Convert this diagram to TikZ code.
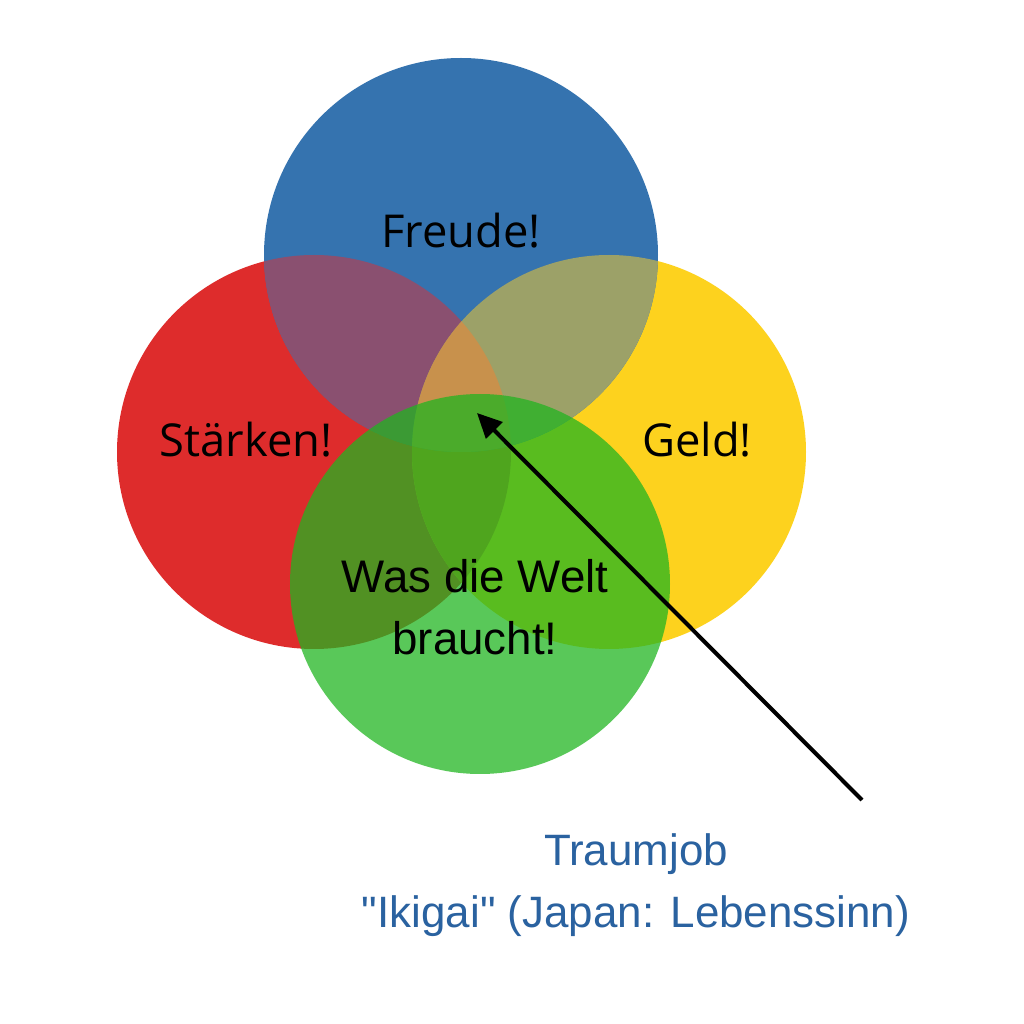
\documentclass[tikz,border=0pt]{standalone}
\definecolor{joyblue}{RGB}{53, 115, 175}
\definecolor{strengthred}{RGB}{222, 44, 44}
\definecolor{moneyyellow}{RGB}{253, 210, 30}
\definecolor{worldgreen}{RGB}{32, 181, 32}
\definecolor{mixpurple}{RGB}{138, 80, 112}
\definecolor{mixolive}{RGB}{156, 161, 104}
\definecolor{mixorange}{RGB}{216, 120, 28}
\definecolor{mixcenter}{RGB}{200, 145, 76}
\definecolor{captionblue}{RGB}{42, 98, 160}
\usepackage{fontspec}
\setmainfont{Open Sans}
\newfontfamily\arialfont{Liberation Sans}
\usepackage{tikz}
\usetikzlibrary{arrows.meta}

% circle paths, reused for fills and clips
\newcommand{\joycirc}{(4.61, 7.69) circle (1.97)}
\newcommand{\strengthcirc}{(3.14, 5.72) circle (1.97)}
\newcommand{\moneycirc}{(6.09, 5.72) circle (1.97)}
\newcommand{\worldcirc}{(4.80, 4.40) circle (1.90)}

\tikzset{
  venntext/.style={font=\fontsize{12.9}{15}\selectfont, text=black, inner sep=0pt, anchor=base},
  worldtext/.style={font=\arialfont\fontsize{13}{17.9}\selectfont, text=black, inner sep=0pt, align=center, anchor=base},
  captiontext/.style={font=\arialfont\fontsize{12.5}{17.6}\selectfont, text=captionblue, inner sep=0pt, align=center, anchor=base}
}

\begin{document}
\begin{tikzpicture}
  \useasboundingbox (0, 0) rectangle (10.24, 10.24);
  \fill[white] (0, 0) rectangle (10.24, 10.24);

  % The circles
  \fill[strengthred] \strengthcirc;
  \fill[moneyyellow] \moneycirc;
  \fill[joyblue] \joycirc;

  % Overlaps
  \begin{scope}
    \clip \strengthcirc;
    \fill[mixorange] \moneycirc;
  \end{scope}
  \begin{scope}
    \clip \joycirc;
    \fill[mixpurple] \strengthcirc;
    \fill[mixolive] \moneycirc;
  \end{scope}
  \begin{scope}
    \clip \joycirc;
    \clip \strengthcirc;
    \fill[mixcenter] \moneycirc;
  \end{scope}

  % Green on top
  \fill[worldgreen, fill opacity=0.74] \worldcirc;

  % Labels
  \node[venntext] (joy) at (4.61, 7.76) {Freude!};
  \node[venntext] (strength) at (2.46, 5.67) {Stärken!};
  \node[venntext] (money) at (6.97, 5.67) {Geld!};
  \node[worldtext] (world) at (4.75, 3.69) {Was die Welt\\braucht!};

  % Caption and arrow
  \node[captiontext] (dreamjob) at (6.36, 0.97) {Traumjob\\"Ikigai" (Japan: Lebenssinn)};
  \coordinate (tail) at (8.62, 2.24);
  \coordinate (ikigai) at (4.77, 6.11);
  \draw[line width=1.15pt, -{Triangle[length=7pt, width=6.5pt]}] (tail) -- (ikigai);
\end{tikzpicture}
\end{document}
